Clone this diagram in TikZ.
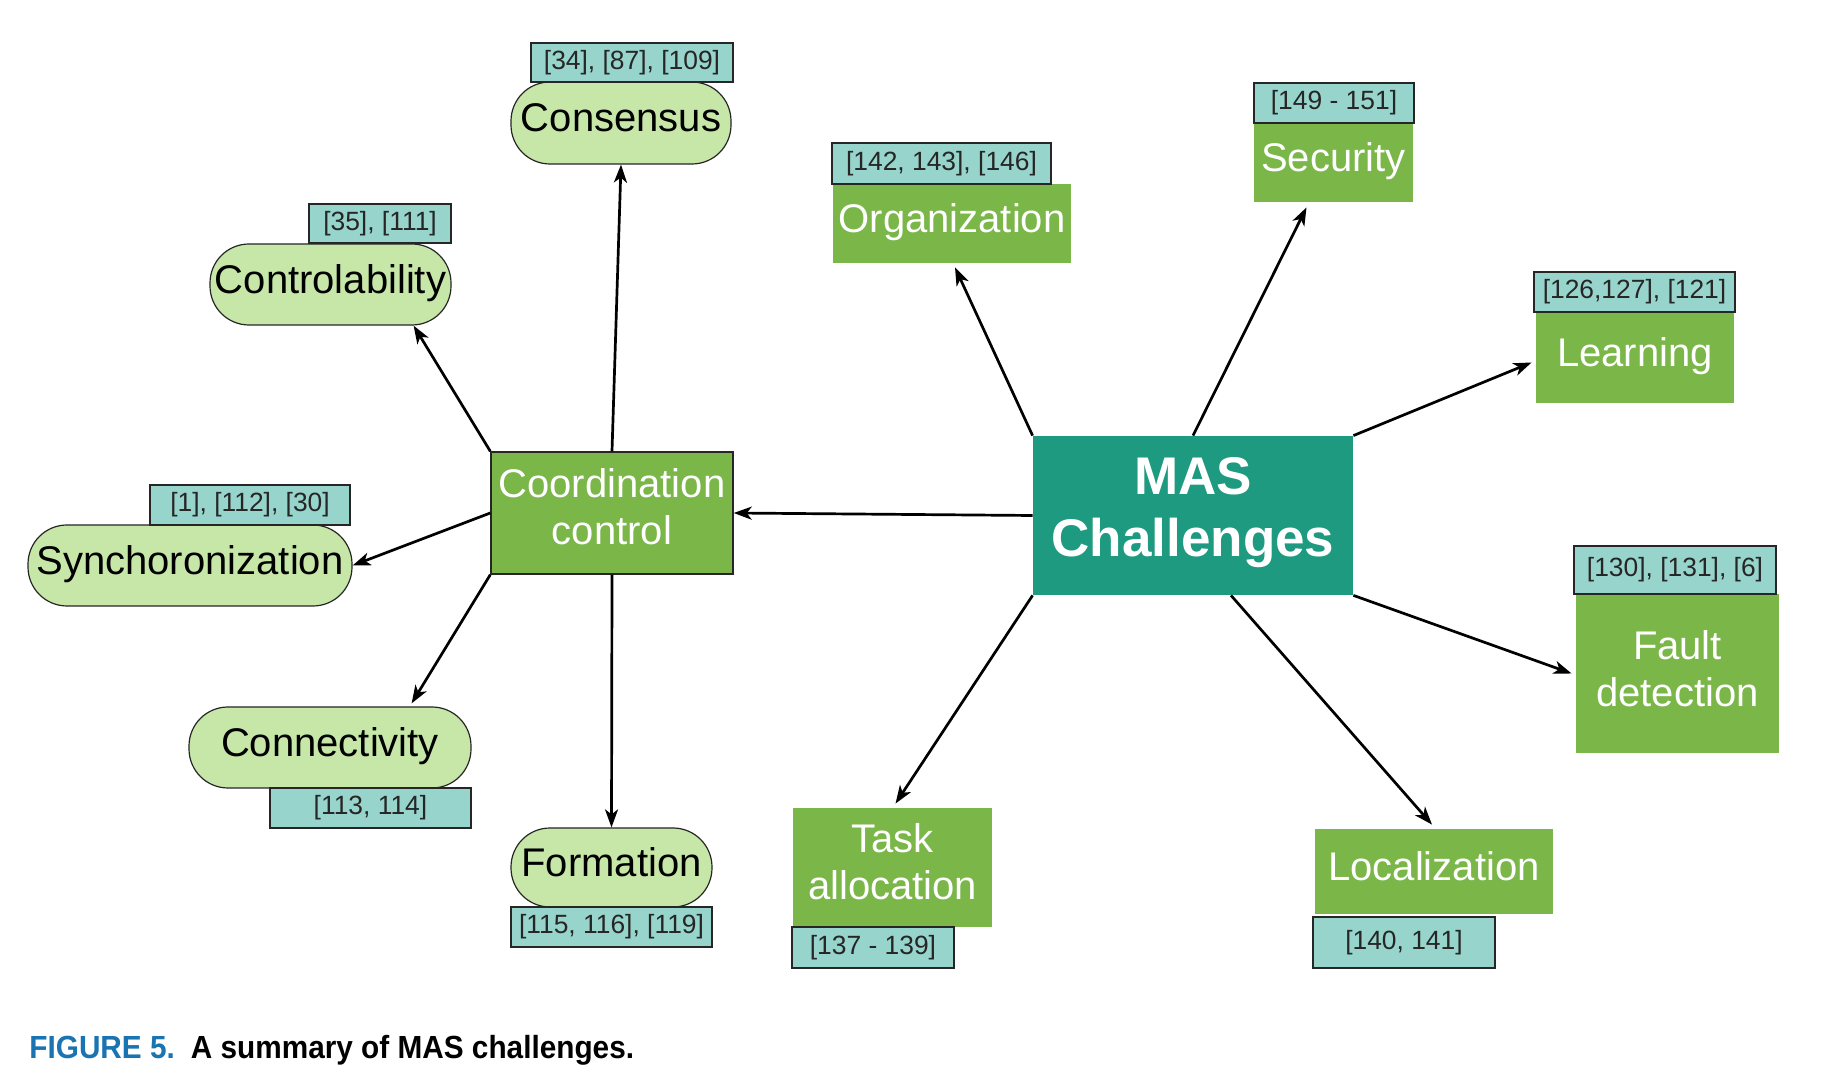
\documentclass[tikz,border=0pt]{standalone}
\usepackage{fontspec}
\setmainfont{Liberation Sans}
\newfontfamily\capfont[FakeStretch=0.93]{Liberation Sans}
\usetikzlibrary{arrows.meta,calc}
\definecolor{gbox}{HTML}{7AB648}
\definecolor{tealref}{HTML}{97D5CC}
\definecolor{lgreen}{HTML}{C7E7A8}
\definecolor{mascol}{HTML}{1D9A80}
\definecolor{capblue}{HTML}{1A74B2}
\newcommand{\dps}[1]{\rule[-#1]{0pt}{#1}}
\tikzset{
  refbox/.style={draw=black!85, line width=0.7pt, fill=tealref, inner sep=0pt,
    text=black!85, font=\fontsize{13.2}{15}\selectfont},
  oval/.style={draw=black!85, line width=0.6pt, fill=lgreen, inner sep=0pt,
    rounded corners=19.5pt, font=\fontsize{20}{24}\selectfont},
  gnode/.style={fill=gbox, inner sep=0pt, text=white, align=center,
    font=\fontsize{20}{23.5}\selectfont},
  link/.style={line width=1.35pt, -{Stealth[length=9pt,width=6.5pt,inset=2.5pt]}},
}
\begin{document}
\begin{tikzpicture}[x=0.5pt,y=-0.5pt]
\useasboundingbox[fill=white] (0,0) rectangle (1838,1090);
% left ovals
\node[oval, minimum width=110pt, minimum height=41pt] (cons) at (621,123) {Consensus\dps{5pt}};
\node[refbox, minimum width=101pt, minimum height=19.5pt] (rcons) at (632,62.5) {[34], [87], [109]};
\node[oval, minimum width=120.5pt, minimum height=40.5pt] (ctrl) at (330.5,284.5) {Controlability\dps{5pt}};
\node[refbox, minimum width=71pt, minimum height=19.5pt] (rctrl) at (380,223.5) {[35], [111]};
\node[oval, minimum width=162pt, minimum height=40.5pt] (sync) at (190,565.5) {Synchoronization\dps{5pt}};
\node[refbox, minimum width=100pt, minimum height=20pt] (rsync) at (250,505) {[1], [112], [30]};
\node[oval, minimum width=141pt, minimum height=40.5pt] (conn) at (330,747.5) {Connectivity\dps{5pt}};
\node[refbox, minimum width=100.5pt, minimum height=20pt] (rconn) at (370.5,808) {[113, 114]};
\node[oval, minimum width=100.5pt, minimum height=39.5pt] (form) at (611.5,867.5) {Formation\dps{5pt}};
\node[refbox, minimum width=100.5pt, minimum height=20pt] (rform) at (611.5,927) {[115, 116], [119]};
% coordination
\node[gnode, draw=black!85, line width=0.7pt, minimum width=121pt, minimum height=61pt] (coord) at (612,513) {Coordination\\control\dps{6pt}};
% MAS
\node[fill=mascol, inner sep=0pt, text=white, align=center, minimum width=160pt, minimum height=79.5pt,
  font=\fontsize{26.5}{31}\selectfont\bfseries] (mas) at (1193,515.5) {MAS\\Challenges\dps{8.5pt}};
% right boxes
\node[gnode, minimum width=119pt, minimum height=39.5pt] (org) at (952,223.5) {Organization\dps{5.8pt}};
\node[refbox, minimum width=109.5pt, minimum height=20.5pt] (rorg) at (941.5,163.5) {[142, 143], [146]};
\node[gnode, minimum width=79.5pt, minimum height=39.5pt] (sec) at (1333.5,162.5) {Security\dps{5.5pt}};
\node[refbox, minimum width=80pt, minimum height=20pt] (rsec) at (1334,103) {[149 - 151]};
\node[gnode, minimum width=99pt, minimum height=45.5pt] (learn) at (1635,357.5) {Learning\dps{5.5pt}};
\node[refbox, minimum width=100.5pt, minimum height=20pt] (rlearn) at (1634.5,292) {[126,127], [121]};
\node[gnode, minimum width=101.5pt, minimum height=79.5pt] (fault) at (1677.5,673.5) {Fault\\detection\dps{5pt}};
\node[refbox, minimum width=101pt, minimum height=24pt] (rfault) at (1675,570) {[130], [131], [6]};
\node[gnode, minimum width=119pt, minimum height=42.5pt] (loc) at (1434,871.5) {Localization\dps{5pt}};
\node[refbox, minimum width=91pt, minimum height=25.5pt] (rloc) at (1404,942.5) {[140, 141]};
\node[gnode, minimum width=99.5pt, minimum height=59.5pt] (task) at (892.5,867.5) {Task\\allocation\dps{6pt}};
\node[refbox, minimum width=81pt, minimum height=20.5pt] (rtask) at (873,947.5) {[137 - 139]};
% connectors
\draw[link] (coord.north) -- (cons.south);
\draw[link] (coord.north west) -- ($(ctrl.south east)+(-38,0)$);
\draw[link] (coord.west) -- (sync.east);
\draw[link] (coord.south west) -- ($(conn.north east)+(-60,-3)$);
\draw[link] (coord.south) -- (form.north);
\draw[link] (mas.west) -- (coord.east);
\draw[link] (mas.north west) -- ($(org.south)+(3,4)$);
\draw[link] (mas.north) -- ($(sec.south)+(-27,5)$);
\draw[link] (mas.north east) -- ($(learn.west)+(-4,5)$);
\draw[link] (mas.south east) -- ($(fault.west)+(-4,0)$);
\draw[link] ($(mas.south)+(38,0)$) -- ($(loc.north)+(-2,-4)$);
\draw[link] (mas.south west) -- ($(task.north)+(3,-4)$);
% caption
\node[anchor=base west, inner sep=0pt, font=\capfont\fontsize{16}{19}\selectfont\bfseries] (cap) at (29,1058)
  {\textcolor{capblue}{FIGURE 5.}\hspace{8pt}A summary of MAS challenges.};
\end{tikzpicture}
\end{document}
